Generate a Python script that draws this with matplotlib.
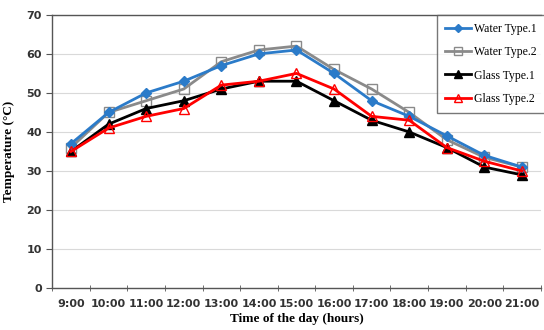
import matplotlib
matplotlib.use("Agg")
import matplotlib.pyplot as plt
import numpy as np

hours = ["9:00", "10:00", "11:00", "12:00", "13:00", "14:00", "15:00",
         "16:00", "17:00", "18:00", "19:00", "20:00", "21:00"]
water1 = [37, 45, 50, 53, 57, 60, 61, 55, 48, 44, 39, 34, 31]
water2 = [36, 45, 48, 51, 58, 61, 62, 56, 51, 45, 38, 33.5, 31]
glass1 = [35, 42, 46, 48, 51, 53, 53, 48, 43, 40, 36, 31, 29]
glass2 = [35, 41, 44, 46, 52, 53, 55, 51, 44, 43, 36, 32.5, 30]

fig = plt.figure(figsize=(5.44, 3.30), dpi=100)
ax = fig.add_axes([0.096, 0.127, 0.898, 0.828])

x = np.arange(len(hours))
ax.plot(x, water1, color="#2b7bc9", lw=2, marker="D", ms=5, mfc="#2b7bc9", mec="#2b7bc9", label="Water Type.1", zorder=4)
ax.plot(x, water2, color="#8a8a8a", lw=2, marker="s", ms=7, mfc="none", mec="#8a8a8a", label="Water Type.2", zorder=3)
ax.plot(x, glass1, color="black", lw=2, marker="^", ms=7, mfc="black", mec="black", label="Glass Type.1", zorder=3)
ax.plot(x, glass2, color="#ff0000", lw=2, marker="^", ms=7, mfc="none", mec="#ff0000", label="Glass Type.2", zorder=5)

ax.set_xlim(-0.5, len(hours) - 0.5)
ax.set_ylim(0, 70)
ax.set_yticks(np.arange(0, 71, 10))
ax.set_xticks(x)
ax.set_xticklabels(hours)
ax.set_xticks(np.arange(-0.5, len(hours), 1), minor=True)
ax.tick_params(axis="x", which="major", length=0, pad=8)
ax.tick_params(axis="x", which="minor", length=4, direction="inout", color="#555555")
ax.tick_params(axis="y", length=4, direction="out", color="#555555")
for lab in ax.get_xticklabels() + ax.get_yticklabels():
    lab.set_fontweight("bold")
    lab.set_fontsize(8)
    lab.set_color("#333333")
    lab.set_family("DejaVu Sans")

ax.yaxis.grid(True, color="#d9d9d9", lw=0.8)
ax.set_axisbelow(True)
for s in ["left", "bottom", "top"]:
    ax.spines[s].set_color("#555555")
    ax.spines[s].set_linewidth(1)
ax.spines["right"].set_visible(False)

ax.set_xlabel("Time of the day (hours)", family="Liberation Serif", fontweight="bold", fontsize=9.5, labelpad=3)
ax.set_ylabel("Temperature (°C)", family="Liberation Serif", fontweight="bold", fontsize=9.5, labelpad=8)

leg = ax.legend(loc="upper right", bbox_to_anchor=(1.008, 1.0), borderaxespad=0,
                prop={"family": "Liberation Serif", "size": 8.5},
                frameon=True, fancybox=False, edgecolor="#555555", handlelength=2.2, borderpad=0.7,
                labelspacing=0.95, handletextpad=0.2, markerscale=0.85)
leg.get_frame().set_linewidth(1)

fig.savefig("out.png", dpi=100)
